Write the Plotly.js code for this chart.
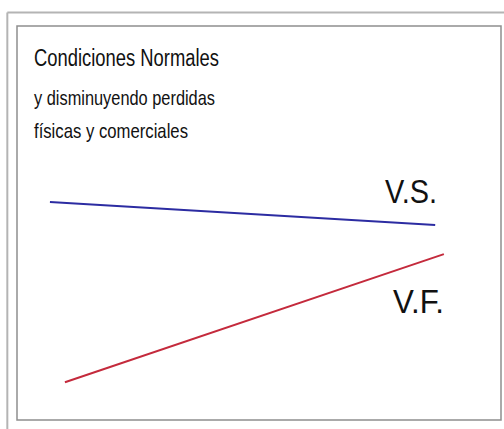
<!DOCTYPE html>
<html>
<head>
<meta charset="utf-8">
<script src="https://cdn.plot.ly/plotly-3.0.1.min.js"></script>
<style>
  html, body { margin: 0; padding: 0; background: #fff; }
  #plot { width: 504px; height: 429px; }
</style>
</head>
<body>
<div id="plot"></div>
<script>
// Schematic values (arbitrary units)
const vsX = [6.8, 86.4];
const vsY = [55.3, 49.5];
const vfX = [9.9, 88.2];
const vfY = [9.6, 42.1];

const titleLines = ['Condiciones Normales', 'y disminuyendo perdidas', 'físicas y comerciales'];
const seriesLabels = ['V.S.', 'V.F.'];

const traceVS = {
    x: vsX,
    y: vsY,
    type: 'scatter',
    mode: 'lines',
    name: seriesLabels[0],
    line: { color: '#2c2ca2', width: 2 },
    hoverinfo: 'skip'
};

const traceVF = {
    x: vfX,
    y: vfY,
    type: 'scatter',
    mode: 'lines',
    name: seriesLabels[1],
    line: { color: '#c42a3c', width: 2 },
    hoverinfo: 'skip'
};

// the original uses a condensed face, so each label is squeezed to its width afterwards
function note(text, x, y, size) {
    return {
        text: text, xref: 'paper', yref: 'paper', x: x, y: y,
        xanchor: 'left', yanchor: 'middle', align: 'left',
        showarrow: false, font: { size: size }
    };
}
const squeezeTo = [185, 181, 154, 52, 51];

const layout = {
    width: 504,
    height: 429,
    margin: { l: 17, r: 3, t: 26, b: 9 },
    paper_bgcolor: '#fff',
    plot_bgcolor: '#fff',
    showlegend: false,
    xaxis: { range: [0, 100], visible: false, fixedrange: true },
    yaxis: { range: [0, 100], visible: false, fixedrange: true },
    font: { family: '"Liberation Sans", Arial, sans-serif', color: '#111' },
    annotations: [
        note(titleLines[0], 0.031, 0.918, 23.5),
        note(titleLines[1], 0.031, 0.8185, 21),
        note(titleLines[2], 0.031, 0.735, 21),
        note(seriesLabels[0], 0.7562, 0.5795, 33),
        note(seriesLabels[1], 0.773, 0.3008, 33)
    ],
    shapes: [
        // outer frame (only top and left edges show)
        { type: 'line', xref: 'paper', yref: 'paper', x0: -0.02, x1: 1.05, y0: 1.0343, y1: 1.0343,
          line: { color: '#b4b4b4', width: 2 } },
        { type: 'line', xref: 'paper', yref: 'paper', x0: -0.02, x1: -0.02, y0: 1.0343, y1: -0.05,
          line: { color: '#b4b4b4', width: 2 } },
        // inner frame
        { type: 'rect', xref: 'paper', yref: 'paper', x0: 0, x1: 1, y0: 0, y1: 1,
          line: { color: '#8f8f8f', width: 1.5 } }
    ]
};

Plotly.newPlot('plot', [traceVS, traceVF], layout, { displayModeBar: false, staticPlot: true })
    .then(function(gd) {
        const texts = gd.querySelectorAll('.annotation-text');
        texts.forEach(function(t, i) {
            t.setAttribute('textLength', squeezeTo[i]);
            t.setAttribute('lengthAdjust', 'spacingAndGlyphs');
        });
    });
</script>
</body>
</html>
